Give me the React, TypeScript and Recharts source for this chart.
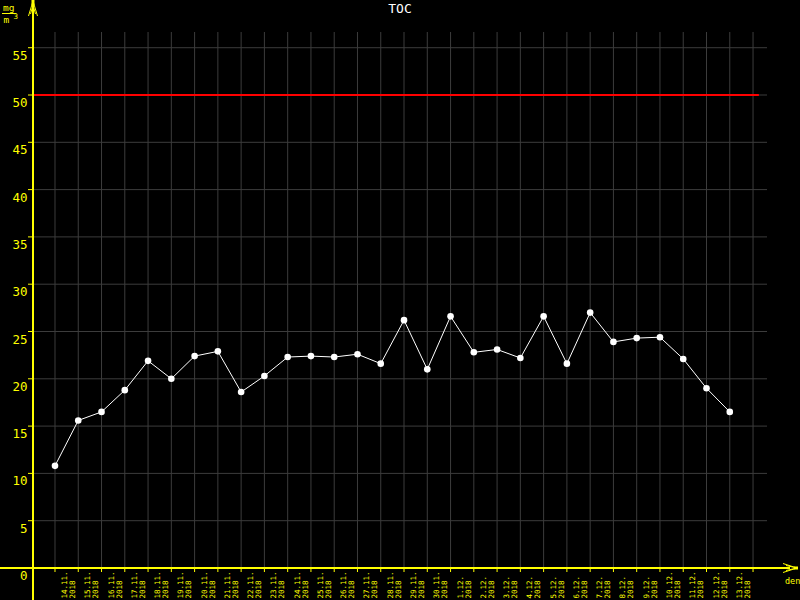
import { LineChart, Line, XAxis, YAxis, ReferenceLine } from 'recharts';

const days = [
  '14.11.', '15.11.', '16.11.', '17.11.', '18.11.', '19.11.', '20.11.', '21.11.', '22.11.', '23.11.',
  '24.11.', '25.11.', '26.11.', '27.11.', '28.11.', '29.11.', '30.11.', '1.12.', '2.12.', '3.12.',
  '4.12.', '5.12.', '6.12.', '7.12.', '8.12.', '9.12.', '10.12.', '11.12.', '12.12.', '13.12.',
];
const year = '2018';

const tocValues = [
  10.8, 15.6, 16.5, 18.8, 21.9, 20.0, 22.4, 22.9, 18.6, 20.3,
  22.3, 22.4, 22.3, 22.6, 21.6, 26.2, 21.0, 26.6, 22.8, 23.1,
  22.2, 26.6, 21.6, 27.0, 23.9, 24.3, 24.4, 22.1, 19.0, 16.5,
];

const yTicks = [0, 5, 10, 15, 20, 25, 30, 35, 40, 45, 50, 55];
const limit = 50;

const data = days.map((day, i) => ({ i, day, toc: tocValues[i] }));
const xTicks = [...days.map((_, i) => i), days.length];

const X_MIN = -0.945;
const X_MAX = 30.6;

const YELLOW = '#ffff00';
const GRID = '#3c3c3c';
const FONT = '"DejaVu Sans Mono", monospace';

const XTick = (props: any) => {
  const { x, payload } = props;
  const label = days[payload.value];
  if (!label) return null;
  return (
    <g fill={YELLOW} fontFamily={FONT} fontSize={7.5}>
      <text transform={`translate(${x + 12},598.5) rotate(-90)`} textAnchor="start">
        {label}
      </text>
      <text transform={`translate(${x + 20},598.5) rotate(-90)`} textAnchor="start">
        {year}
      </text>
    </g>
  );
};

const YTick = (props: any) => {
  const { y, payload } = props;
  return (
    <text x={27.5} y={y + 12} textAnchor="end" fill={YELLOW} fontFamily={FONT} fontSize={12.5}>
      {payload.value}
    </text>
  );
};

export default function App() {
  return (
    <div style={{ position: 'absolute', left: 0, top: 0, width: 800, height: 600, background: '#000' }}>
      <LineChart
        width={800}
        height={600}
        data={data}
        margin={{ top: 32, right: 33, bottom: 0, left: 0 }}
      >
        <XAxis
          type="number"
          dataKey="i"
          domain={[X_MIN, X_MAX]}
          ticks={xTicks}
          interval={0}
          allowDataOverflow
          height={32}
          axisLine={{ stroke: YELLOW, strokeWidth: 2 }}
          tickLine={{ stroke: YELLOW }}
          tickSize={4}
          tick={(p: any) => <XTick {...p} />}
        />
        <YAxis
          type="number"
          domain={[0, 56.66]}
          ticks={yTicks}
          interval={0}
          allowDataOverflow
          width={33}
          axisLine={{ stroke: YELLOW, strokeWidth: 2 }}
          tickLine={{ stroke: YELLOW }}
          tickSize={5}
          tick={(p: any) => <YTick {...p} />}
        />
        {/* grid drawn at the tick values only, no frame */}
        {yTicks.map((t) => (
          <ReferenceLine key={`h${t}`} y={t} stroke={GRID} strokeWidth={1} />
        ))}
        {xTicks.map((t) => (
          <ReferenceLine key={`v${t}`} x={t} stroke={GRID} strokeWidth={1} />
        ))}
        <ReferenceLine
          segment={[{ x: X_MIN, y: limit }, { x: 30.25, y: limit }]}
          stroke="#ff0000"
          strokeWidth={2}
        />
        <Line
          type="linear"
          dataKey="toc"
          stroke="#ffffff"
          strokeWidth={1}
          dot={{ r: 3.3, fill: '#ffffff', stroke: '#ffffff', strokeWidth: 0 }}
          isAnimationActive={false}
        />
      </LineChart>
      <svg
        width={800}
        height={600}
        style={{ position: 'absolute', left: 0, top: 0, pointerEvents: 'none' }}
      >
        {/* axes running past the plot, with arrows */}
        <line x1={33} y1={0} x2={33} y2={600} stroke={YELLOW} strokeWidth={2} />
        <line x1={0} y1={568} x2={790} y2={568} stroke={YELLOW} strokeWidth={2} />
        <g stroke={YELLOW} strokeWidth={1} fill="none">
          <polyline points="28.5,16 33,1 37.5,16" />
          <polyline points="30.5,14 33,5 35.5,14" />
          <polyline points="783,563.5 797,568 783,572.5" />
          <polyline points="786,565.5 797,568 786,570.5" />
        </g>
        <rect x={31.5} y={0} width={3} height={5} fill={YELLOW} />
        <rect x={794} y={566.5} width={4} height={3} fill={YELLOW} />
        <text x={400} y={12.5} textAnchor="middle" fill="#ffffff" fontFamily={FONT} fontSize={13}>
          TOC
        </text>
        <g fill={YELLOW} fontFamily={FONT}>
          <text x={3} y={10.5} fontSize={9.5}>mg</text>
          <text x={3.5} y={23} fontSize={9.5}>m</text>
          <text x={13.5} y={19} fontSize={7.5}>3</text>
          <text x={785} y={584} fontSize={8.5}>den</text>
        </g>
        <line x1={2} y1={13.5} x2={16.5} y2={13.5} stroke={YELLOW} strokeWidth={1} />
      </svg>
    </div>
  );
}
